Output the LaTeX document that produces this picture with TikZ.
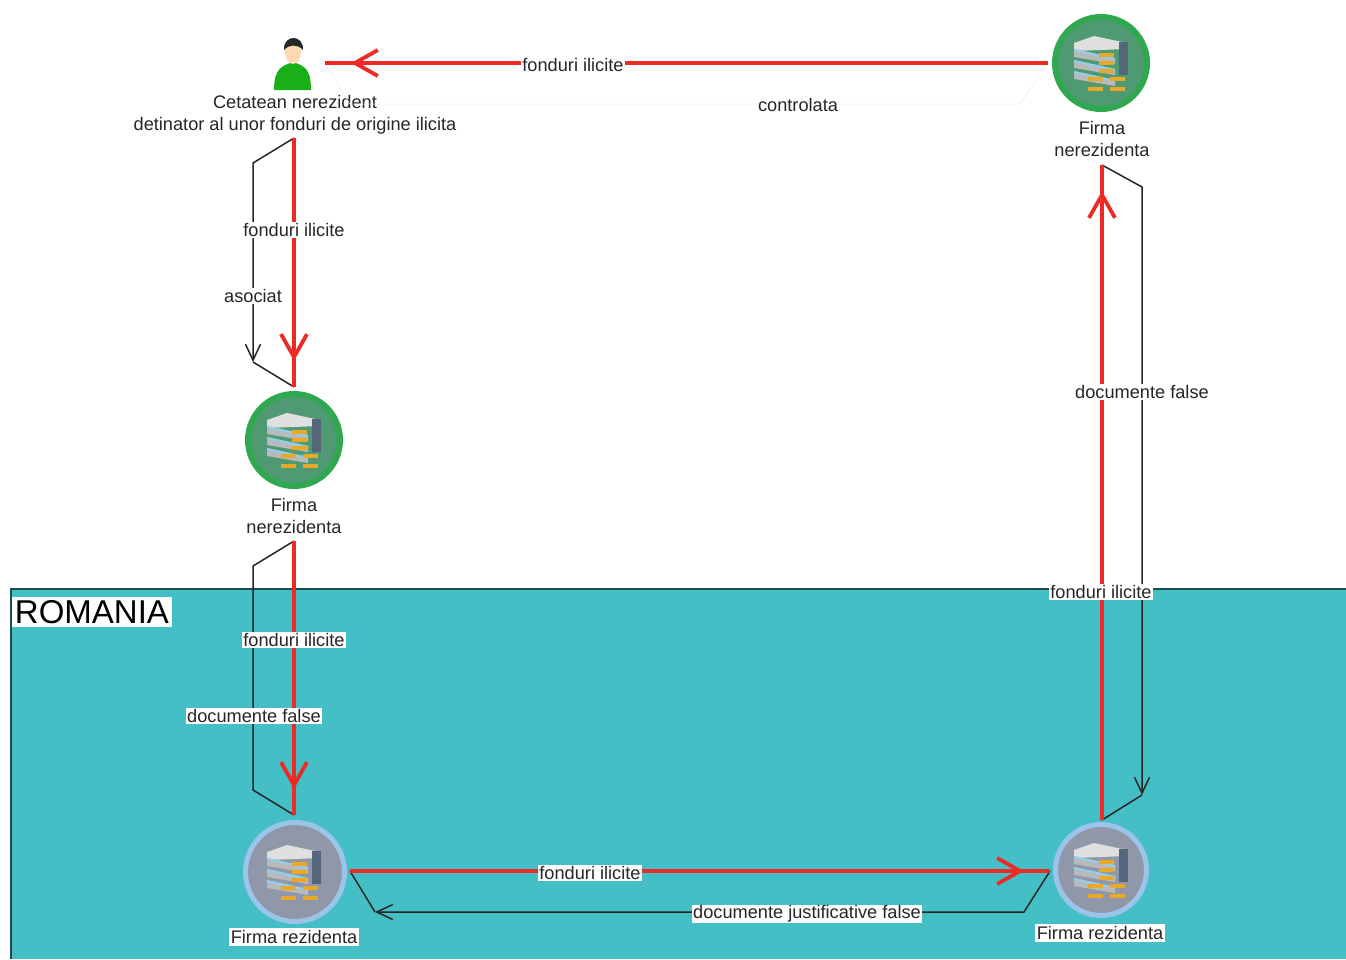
\documentclass[tikz,border=0pt]{standalone}
\usepackage{fontspec}
\setmainfont{Liberation Sans}
\usetikzlibrary{arrows.meta,decorations.markings}
\definecolor{romaniateal}{HTML}{45BFC6}
\definecolor{flowred}{HTML}{EE2A24}
\definecolor{firmgreen}{HTML}{2FA84F}
\definecolor{firminner}{HTML}{4F9A72}
\definecolor{firmgray}{HTML}{8F97A8}
\definecolor{firmblue}{HTML}{9CC4EA}
\definecolor{serverorange}{HTML}{E8A92A}
\definecolor{serverblue}{HTML}{8FD0EE}
\definecolor{serverside}{HTML}{55657A}
\tikzset{
    every node/.style={align=center,font=\fontsize{18.2}{22}\selectfont,text=black!85},
    caption/.style={inner sep=1pt},
    flowlabel/.style={fill=white,inner sep=1pt},
    nonresident/.style={circle,fill=firminner,draw=firmgreen,line width=6pt,minimum size=92pt,inner sep=0pt},
    resident/.style={circle,fill=firmgray,draw=firmblue,line width=5pt,minimum size=91pt,inner sep=0pt},
    redflow/.style={draw=flowred,line width=3.8pt,postaction={decorate},
        decoration={markings,mark=at position -26pt with {\arrow[flowred,line width=3.8pt]{Straight Barb[length=23pt,width=26pt]}}}},
    docflow/.style={draw=black!85,line width=1.5pt},
    docarrow/.style={docflow,-{Straight Barb[length=16pt,width=15pt]}},
    faintflow/.style={draw=black!8,line width=1pt,densely dotted},
    pics/server/.style={code={
        \fill[gray!25] (-27,-20) -- (-7,-27) -- (26,-20) -- (26,-14) -- (-27,-12) -- cycle;
        \fill[serverside] (18,-21) rectangle (27,12);
        \foreach \y in {-14,-3,8}{
            \fill[gray!55] (-27,\y) -- (14,\y+9) -- (14,\y+15) -- (-27,\y+8) -- cycle;
            \draw[serverblue,line width=2pt] (-27,\y+1) -- (14,\y+10);
        }
        \foreach \x/\y in {0/-10,0/-2,0/6,-11/14,11/14,-11/24,11/24}{
            \fill[serverorange] (\x-2,\y) rectangle (\x+13,\y+4);
        }
    }},
}

\begin{document}
\begin{tikzpicture}[x=1pt,y=-1pt]
    \useasboundingbox (0,0) rectangle (1346,959);

    \fill[romaniateal] (11,589) rectangle (1346,959);
    \draw[black!60!romaniateal,line width=1.5pt] (11,959) -- (11,589) -- (1346,589);
    \node[fill=white,inner sep=3pt,font=\fontsize{33}{36}\selectfont,text=black] (romania) at (92,612) {ROMANIA};

    % firms
    \node[nonresident] (firm_left) at (294,440) {};
    \node[nonresident] (firm_top) at (1101,63) {};
    \node[resident,minimum size=99pt] (resident_left) at (295,872) {};
    \node[resident] (resident_right) at (1101,870) {};
    \pic at (294,440) {server};
    \pic at (1101,63) {server};
    \pic at (294,872) {server};
    \pic at (1101,870) {server};

    % person
    \node[minimum width=40pt,minimum height=56pt,inner sep=0pt] (citizen) at (293,63) {};
    \fill[green!65!black!90!white] (274,90) .. controls (274,68) and (282,66) .. (293,62) .. controls (304,66) and (311,68) .. (311,90) -- cycle;
    \fill[orange!30] (293,52) ellipse (8 and 12);
    \fill[black!85] (284,50) .. controls (283,34) and (304,34) .. (303,50) .. controls (298,44) and (289,44) .. (284,50) -- cycle;

    % captions
    \node[caption] (citizen_text) at (295,115) {Cetatean nerezident\\detinator al unor fonduri de origine ilicita};
    \node[caption] (firm_left_text) at (294,516) {Firma\\nerezidenta};
    \node[caption] (firm_top_text) at (1102,139) {Firma\\nerezidenta};
    \node[caption,fill=white,inner sep=2pt] (resident_left_text) at (294,937) {Firma rezidenta};
    \node[caption,fill=white,inner sep=2pt] (resident_right_text) at (1100,933) {Firma rezidenta};

    % elbows
    \coordinate (c1) at (294,138);
    \coordinate (c2) at (294,387);
    \coordinate (c3) at (294,541);
    \coordinate (c4) at (294,815);
    \coordinate (c5) at (350,871);
    \coordinate (c6) at (1050,871);
    \coordinate (c7) at (1102,820);
    \coordinate (c8) at (1102,165);
    \coordinate (c9) at (1048,63);
    \coordinate (c10) at (325,63);
    \coordinate (e1) at (253,163);
    \coordinate (e2) at (253,362);
    \coordinate (e3) at (253,566);
    \coordinate (e4) at (253,790);
    \coordinate (e5) at (1142,187);
    \coordinate (e6) at (1142,795);
    \coordinate (e7) at (1024,912);
    \coordinate (e8) at (375,912);
    \coordinate (e9) at (1020,104);
    \coordinate (e10) at (350,104);

    % documents
    \draw[faintflow] (c9) -- (e9) -- (e10) -- (c10);
    \draw[docarrow] (c1) -- (e1) -- (e2);
    \draw[docflow] (e2) -- (c2);
    \draw[docflow] (c3) -- (e3) -- (e4) -- (c4);
    \draw[docarrow] (c8) -- (e5) -- (e6);
    \draw[docflow] (e6) -- (c7);
    \draw[docarrow] (c6) -- (e7) -- (e8);
    \draw[docflow] (e8) -- (c5);

    % money
    \draw[redflow] (c9) -- (c10);
    \draw[redflow] (c1) -- (c2);
    \draw[redflow] (c3) -- (c4);
    \draw[redflow] (c5) -- (c6);
    \draw[redflow] (c7) -- (c8);

    % labels
    \node[flowlabel] (l1) at (573,65) {fonduri ilicite};
    \node[flowlabel] (l2) at (798,105) {controlata};
    \node[flowlabel] (l3) at (294,230) {fonduri ilicite};
    \node[flowlabel] (l4) at (253,296) {asociat};
    \node[flowlabel] (l5) at (294,640) {fonduri ilicite};
    \node[flowlabel] (l6) at (254,716) {documente false};
    \node[flowlabel] (l7) at (590,873) {fonduri ilicite};
    \node[flowlabel] (l8) at (807,914) {documente justificative false};
    \node[flowlabel] (l9) at (1101,592) {fonduri ilicite};
    \node[flowlabel] (l10) at (1142,392) {documente false};
\end{tikzpicture}
\end{document}
